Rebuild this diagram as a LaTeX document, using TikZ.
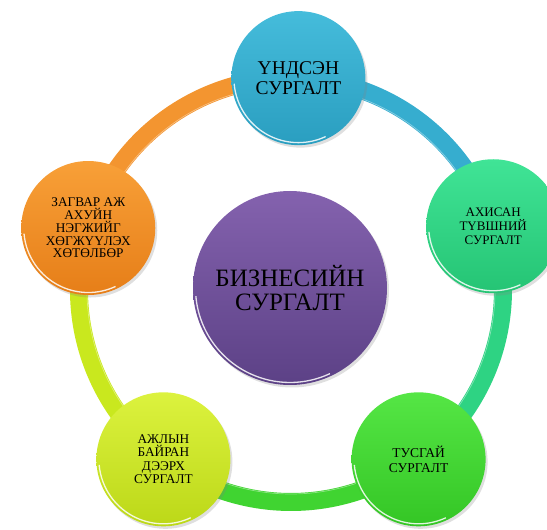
\documentclass[tikz,border=0pt]{standalone}
\usepackage{fontspec}
\setmainfont{Liberation Serif}
\usetikzlibrary{calc,shadows}
\definecolor{cyanA}{HTML}{45BCDB}
\definecolor{cyanB}{HTML}{2A9EC0}
\definecolor{mintA}{HTML}{40E496}
\definecolor{mintB}{HTML}{25C474}
\definecolor{grnA}{HTML}{55E645}
\definecolor{grnB}{HTML}{34C625}
\definecolor{ylwA}{HTML}{DCF23E}
\definecolor{ylwB}{HTML}{BCD818}
\definecolor{orgA}{HTML}{F8A038}
\definecolor{orgB}{HTML}{E67E18}
\definecolor{purA}{HTML}{8462AE}
\definecolor{purB}{HTML}{5C4186}
\definecolor{ringO}{HTML}{F39530}
\definecolor{ringC}{HTML}{36ADCF}
\definecolor{ringT}{HTML}{2ED383}
\definecolor{ringG}{HTML}{40D431}
\definecolor{ringY}{HTML}{C9E81E}
\tikzset{
  ball/.style={circle, minimum size=134pt, inner sep=0pt, align=center, text=black,
    drop shadow={shadow xshift=2pt, shadow yshift=-2.5pt, opacity=0.25}},
  bigball/.style={ball, minimum size=194pt},
  ringseg/.style={line width=18pt},
  gloss/.style={white, opacity=0.85, line width=1.3pt},
}
\begin{document}
\begin{tikzpicture}[x=1pt,y=1pt]
\useasboundingbox (0,0) rectangle (547,530);
\coordinate (C) at (291,240);
% ring
\draw[ringseg, ringC] ($(C)+(88:212)$) arc[start angle=88, end angle=17.5, radius=212];
\draw[ringseg, ringT] ($(C)+(17.5:212)$) arc[start angle=17.5, end angle=-53, radius=212];
\draw[ringseg, ringG] ($(C)+(-53:212)$) arc[start angle=-53, end angle=-127, radius=212];
\draw[ringseg, ringY] ($(C)+(-127:212)$) arc[start angle=-127, end angle=-197, radius=212];
\draw[ringseg, ringO] ($(C)+(163:212)$) arc[start angle=163, end angle=88, radius=212];
% ring inner highlight
\draw[white, opacity=0.4, line width=0.7pt] ($(C)+(88:204)$) arc[start angle=88, end angle=-272, radius=204];
% circles
\node[bigball, top color=purA, bottom color=purB, font=\fontsize{25}{23.5}\selectfont] (center) at (290,242)
  {БИЗНЕСИЙН\\ СУРГАЛТ};
\node[ball, top color=cyanA, bottom color=cyanB, font=\fontsize{19.5}{20}\selectfont] (n1) at ($(C)+(88:212)$)
  {ҮНДСЭН\\ СУРГАЛТ};
\node[ball, top color=mintA, bottom color=mintB, font=\fontsize{13}{14}\selectfont] (n2) at ($(C)+(17.5:212)$)
  {АХИСАН\\ ТҮВШНИЙ\\ СУРГАЛТ};
\node[ball, top color=grnA, bottom color=grnB, font=\fontsize{13.5}{15}\selectfont] (n3) at ($(C)+(-53:212)$)
  {ТУСГАЙ\\ СУРГАЛТ};
\node[ball, top color=ylwA, bottom color=ylwB, font=\fontsize{13.3}{13.5}\selectfont] (n4) at ($(C)+(-127:212)$)
  {АЖЛЫН\\ БАЙРАН\\ ДЭЭРХ\\ СУРГАЛТ};
\node[ball, top color=orgA, bottom color=orgB, font=\fontsize{13.3}{12.8}\selectfont] (n5) at ($(C)+(163:212)$)
  {ЗАГВАР АЖ\\ АХУЙН\\ НЭГЖИЙГ\\ ХӨГЖҮҮЛЭХ\\ ХӨТӨЛБӨР};
% gloss rims
\foreach \n in {n1,n2,n3,n4,n5}{
  \draw[gloss] ($(\n)+(185:64.5)$) arc[start angle=185, end angle=295, radius=64.5];
}
\draw[gloss] ($(center)+(185:94.5)$) arc[start angle=185, end angle=295, radius=94.5];
\end{tikzpicture}
\end{document}
